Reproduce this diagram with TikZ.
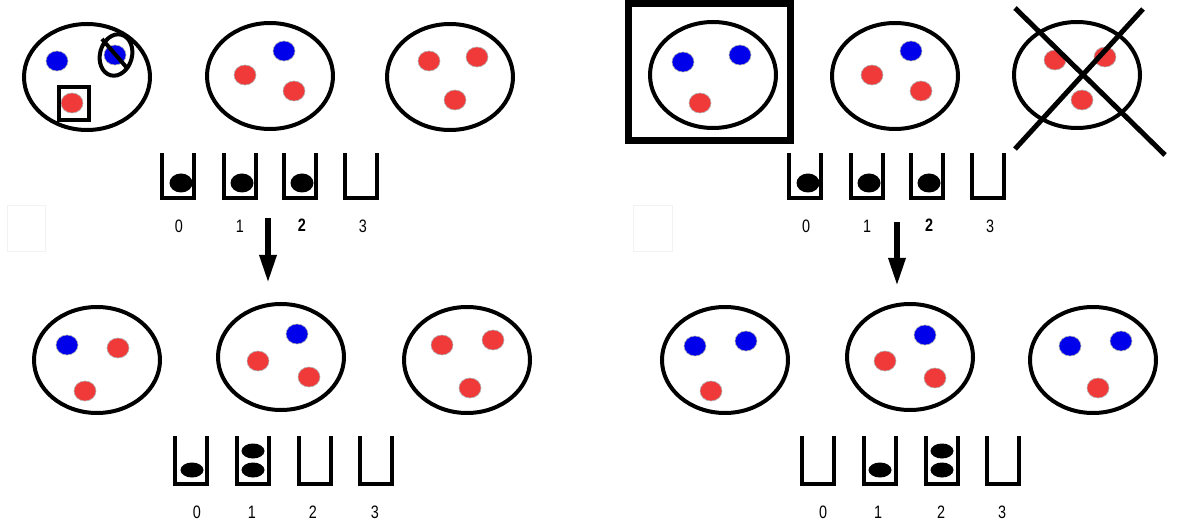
\documentclass[tikz,border=0pt]{standalone}
\usepackage{fontspec}
\setmainfont{Liberation Sans}
\usetikzlibrary{shapes.geometric,arrows.meta}
\definecolor{dotred}{RGB}{240,58,58}
\definecolor{dotblue}{RGB}{0,0,235}
\tikzset{
  bigell/.style={ellipse, draw=black, line width=4pt, minimum width=126pt, minimum height=106pt, inner sep=0pt},
  rdot/.style={ellipse, fill=dotred, draw=gray!60, line width=0.6pt, minimum width=22pt, minimum height=20pt, inner sep=0pt},
  bdot/.style={ellipse, fill=dotblue, draw=gray!60, line width=0.6pt, minimum width=22pt, minimum height=20pt, inner sep=0pt},
  ballA/.style={ellipse, fill=black, minimum width=23pt, minimum height=19pt, inner sep=0pt},
  ballB/.style={ellipse, fill=black, minimum width=23pt, minimum height=15pt, inner sep=0pt},
  lbl/.style={font=\fontsize{18}{20}\selectfont, xscale=0.8, inner sep=0pt},
  cupline/.style={line width=4.5pt, line join=miter},
  arr/.style={line width=6pt, -{Triangle[width=16pt,length=28pt]}},
  faint/.style={draw=black!5, line width=1pt}
}
\newcommand{\cuptop}[2]{\draw[cupline] (#1-16,#2) -- (#1-16,#2+45) -- (#1+16,#2+45) -- (#1+16,#2);}
\begin{document}
\begin{tikzpicture}[x=1pt,y=-1pt]
\useasboundingbox (0,0) rectangle (1178,529);
% faint boxes
\draw[faint] (7,206) rectangle (45,252);
\draw[faint] (633,206) rectangle (672,252);

% ===== top left =====
\node[bigell] (tl1) at (87,77) {};
\node[bdot] (tl1b1) at (57,61) {};
\node[bdot] (tl1b2) at (115,55) {};
\node[rdot] (tl1r1) at (72,103) {};
\node[ellipse, draw, line width=4pt, minimum width=32pt, minimum height=42pt, rotate=-15] (tl1ring) at (116,55) {};
\draw[line width=4pt] (102,39) -- (127,68);
\draw[line width=4.5pt] (59,87) rectangle (89,120);

\node[bigell] (tl2) at (270,76) {};
\node[bdot] (tl2b1) at (284,51) {};
\node[rdot] (tl2r1) at (245,75) {};
\node[rdot] (tl2r2) at (294,91) {};

\node[bigell] (tl3) at (450,77) {};
\node[rdot] (tl3r1) at (429,61) {};
\node[rdot] (tl3r2) at (477,57) {};
\node[rdot] (tl3r3) at (455,100) {};

% cups top left
\cuptop{178}{153}
\cuptop{240}{153}
\cuptop{300}{153}
\cuptop{361}{153}
\node[ballA] (tlc0) at (181,183) {};
\node[ballA] (tlc1) at (242,183) {};
\node[ballA] (tlc2) at (302,183) {};
\node[lbl] (tll0) at (179,226) {0};
\node[lbl] (tll1) at (240,226) {1};
\node[lbl] (tll2) at (302,225) {\bfseries 2};
\node[lbl] (tll3) at (363,226) {3};

\coordinate (la1) at (268,218);
\coordinate (la2) at (268,283);
\draw[arr] (la1) -- (la2);

% ===== bottom left =====
\node[bigell] (bl1) at (97,360) {};
\node[bdot] (bl1b1) at (67,345) {};
\node[rdot] (bl1r1) at (118,348) {};
\node[rdot] (bl1r2) at (85,391) {};

\node[bigell] (bl2) at (281,357) {};
\node[bdot] (bl2b1) at (297,334) {};
\node[rdot] (bl2r1) at (258,361) {};
\node[rdot] (bl2r2) at (309,377) {};

\node[bigell] (bl3) at (467,360) {};
\node[rdot] (bl3r1) at (442,345) {};
\node[rdot] (bl3r2) at (493,340) {};
\node[rdot] (bl3r3) at (470,388) {};

\draw[cupline] (175,436) -- (175,484) -- (207,484) -- (207,436);
\draw[cupline] (237,436) -- (237,484) -- (269,484) -- (269,436);
\draw[cupline] (299,436) -- (299,484) -- (331,484) -- (331,436);
\draw[cupline] (360,436) -- (360,484) -- (392,484) -- (392,436);
\node[ballB] (blc0) at (192,470) {};
\node[ballB] (blc1a) at (253,470) {};
\node[ballB] (blc1b) at (253,451) {};
\node[lbl] (bll0) at (197,512) {0};
\node[lbl] (bll1) at (252,512) {1};
\node[lbl] (bll2) at (313,512) {2};
\node[lbl] (bll3) at (375,512) {3};

% ===== top right =====
\draw[line width=7pt] (628,4) rectangle (790,141);
\node[bigell] (tr1) at (713,75) {};
\node[bdot] (tr1b1) at (683,62) {};
\node[bdot] (tr1b2) at (740,55) {};
\node[rdot] (tr1r1) at (700,103) {};

\node[bigell] (tr2) at (895,76) {};
\node[bdot] (tr2b1) at (911,51) {};
\node[rdot] (tr2r1) at (872,75) {};
\node[rdot] (tr2r2) at (921,91) {};

\node[bigell] (tr3) at (1077,75) {};
\node[rdot] (tr3r1) at (1055,60) {};
\node[rdot] (tr3r2) at (1105,57) {};
\node[rdot] (tr3r3) at (1082,100) {};
\draw[line width=5pt] (1015,8) -- (1165,155);
\draw[line width=5pt] (1143,9) -- (1015,149);

\cuptop{805}{153}
\cuptop{867}{153}
\cuptop{927}{153}
\cuptop{988}{153}
\node[ballA] (trc0) at (808,183) {};
\node[ballA] (trc1) at (869,183) {};
\node[ballA] (trc2) at (929,183) {};
\node[lbl] (trl0) at (806,226) {0};
\node[lbl] (trl1) at (867,226) {1};
\node[lbl] (trl2) at (929,225) {\bfseries 2};
\node[lbl] (trl3) at (990,226) {3};

\coordinate (ra1) at (897,222);
\coordinate (ra2) at (897,286);
\draw[arr] (ra1) -- (ra2);

% ===== bottom right =====
\node[bigell] (br1) at (725,360) {};
\node[bdot] (br1b1) at (695,346) {};
\node[bdot] (br1b2) at (746,341) {};
\node[rdot] (br1r1) at (711,391) {};

\node[bigell] (br2) at (910,357) {};
\node[bdot] (br2b1) at (925,335) {};
\node[rdot] (br2r1) at (885,361) {};
\node[rdot] (br2r2) at (935,378) {};

\node[bigell] (br3) at (1093,360) {};
\node[bdot] (br3b1) at (1070,346) {};
\node[bdot] (br3b2) at (1121,341) {};
\node[rdot] (br3r1) at (1098,388) {};

\draw[cupline] (802,436) -- (802,484) -- (834,484) -- (834,436);
\draw[cupline] (864,436) -- (864,484) -- (896,484) -- (896,436);
\draw[cupline] (926,436) -- (926,484) -- (958,484) -- (958,436);
\draw[cupline] (987,436) -- (987,484) -- (1019,484) -- (1019,436);
\node[ballB] (brc1) at (880,470) {};
\node[ballB] (brc2a) at (942,470) {};
\node[ballB] (brc2b) at (942,451) {};
\node[lbl] (brl0) at (823,512) {0};
\node[lbl] (brl1) at (878,512) {1};
\node[lbl] (brl2) at (941,512) {2};
\node[lbl] (brl3) at (1002,512) {3};
\end{tikzpicture}
\end{document}
